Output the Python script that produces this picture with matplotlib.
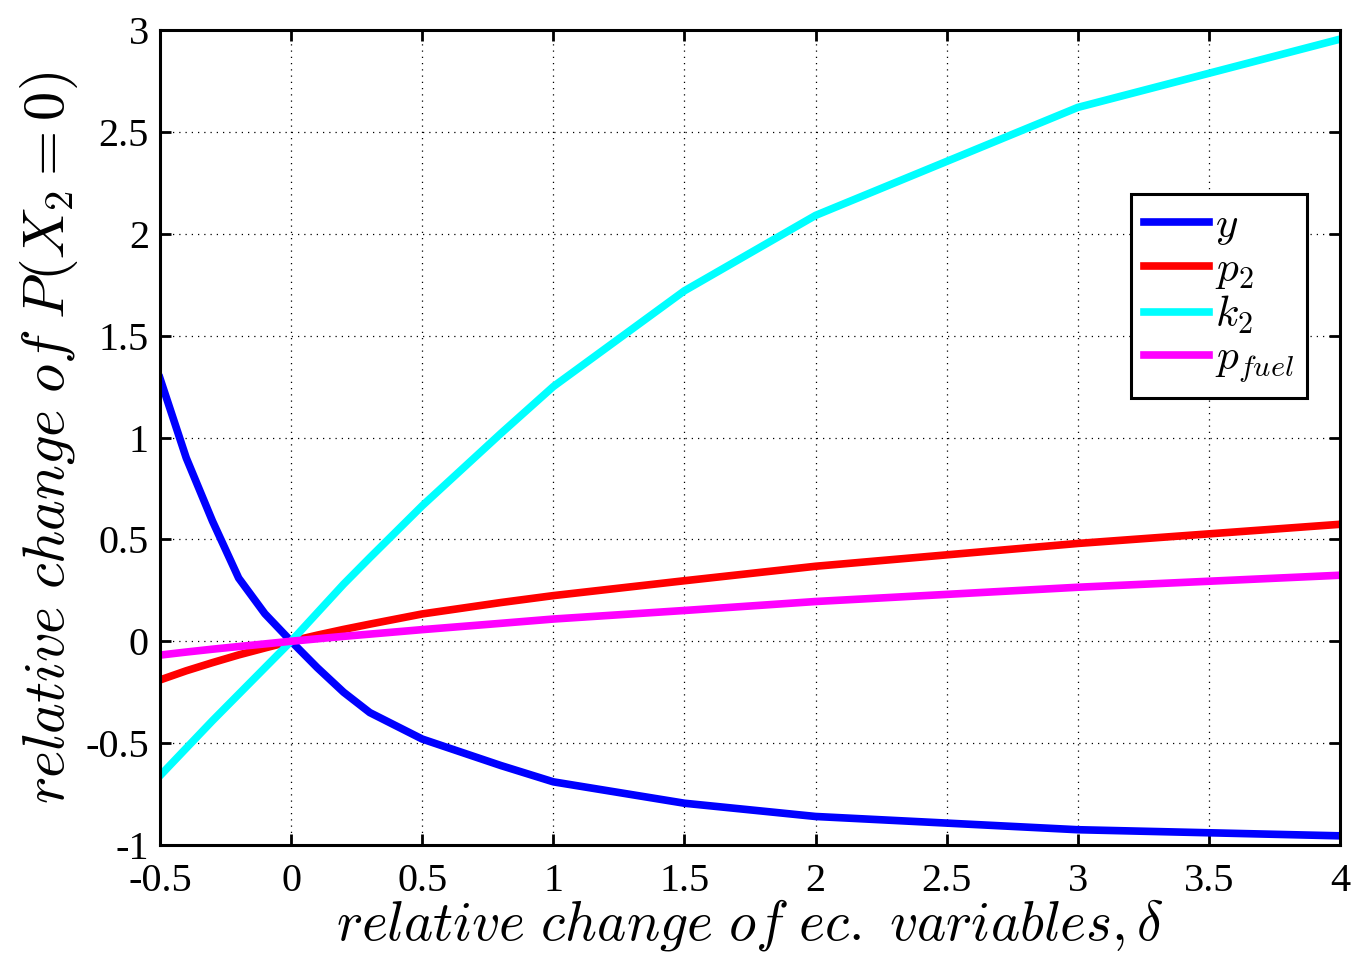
import matplotlib
matplotlib.use("Agg")
import matplotlib.pyplot as plt

delta = [-0.5, -0.4, -0.3, -0.2, -0.1, 0.0, 0.1, 0.2, 0.3, 0.5, 0.8, 1.0, 1.5, 2.0, 3.0, 4.0]
y_vals = [1.29, 0.90, 0.59, 0.31, 0.135, 0.0, -0.13, -0.25, -0.35, -0.48, -0.61, -0.69, -0.795, -0.86, -0.925, -0.955]
p2_vals = [-0.19, -0.145, -0.105, -0.067, -0.033, 0.0, 0.03, 0.058, 0.084, 0.134, 0.19, 0.224, 0.297, 0.368, 0.48, 0.574]
k2_vals = [-0.66, -0.525, -0.39, -0.26, -0.13, 0.0, 0.14, 0.28, 0.41, 0.665, 1.02, 1.25, 1.72, 2.09, 2.62, 2.955]
pfuel_vals = [-0.068, -0.053, -0.039, -0.026, -0.013, 0.0, 0.012, 0.024, 0.035, 0.057, 0.088, 0.109, 0.151, 0.195, 0.265, 0.324]

series_labels = [r"$y$", r"$p_2$", r"$k_2$", r"$p_{fuel}$"]
series_colors = ["#0000ff", "#ff0000", "#00ffff", "#ff00ff"]

xticks = [-0.5, 0, 0.5, 1, 1.5, 2, 2.5, 3, 3.5, 4]
xticklabels = ["-0.5", "0", "0.5", "1", "1.5", "2", "2.5", "3", "3.5", "4"]
yticks = [-1, -0.5, 0, 0.5, 1, 1.5, 2, 2.5, 3]
yticklabels = ["-1", "-0.5", "0", "0.5", "1", "1.5", "2", "2.5", "3"]

plt.rcParams["mathtext.fontset"] = "cm"
plt.rcParams["font.family"] = ["Liberation Serif", "DejaVu Serif"]

fig = plt.figure(figsize=(13.56, 9.56), dpi=100)
ax = fig.add_axes([160/1356, (956-845)/956, (1340-160)/1356, (845-30)/956])

for vals, lab, col in zip([y_vals, p2_vals, k2_vals, pfuel_vals], series_labels, series_colors):
    ax.plot(delta, vals, color=col, lw=5.5, label=lab)

ax.set_xlim(-0.5, 4)
ax.set_ylim(-1, 3)
ax.set_xticks(xticks)
ax.set_xticklabels(xticklabels)
ax.set_yticks(yticks)
ax.set_yticklabels(yticklabels)
ax.tick_params(direction="in", length=8, width=2, labelsize=29, top=True, right=True, pad=8)
ax.tick_params(axis="x", pad=13)
for s in ax.spines.values():
    s.set_linewidth(2.2)
ax.grid(True, linestyle=(0, (1, 4)), color="black", linewidth=0.9)

ax.set_xlabel(r"$relative\ change\ of\ ec.\ variables, \delta$", fontsize=40, labelpad=-2)
ax.set_ylabel(r"$relative\ change\ of\ P(X_2 = 0)$", fontsize=42, labelpad=4)

leg = ax.legend(loc="upper right", bbox_to_anchor=((1307-160)/1180, (845-194)/815),
                fontsize=31, frameon=True, fancybox=False, borderaxespad=0,
                handlelength=1.5, handletextpad=0.15, labelspacing=0.08, borderpad=0.3)
leg.get_frame().set_edgecolor("black")
leg.get_frame().set_linewidth(2.2)
leg.get_frame().set_alpha(1)

fig.savefig("out.png", dpi=100)
